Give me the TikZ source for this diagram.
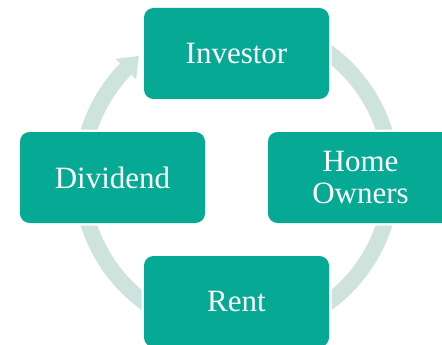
\documentclass[tikz,border=0pt]{standalone}
\usepackage{fontspec}
\setmainfont{Liberation Serif}
\usetikzlibrary{calc}
\definecolor{teal1}{HTML}{05A994}
\definecolor{ringcol}{HTML}{CDE3DC}
\begin{document}
\begin{tikzpicture}[x=1pt,y=-1pt,
  box/.style={rectangle, rounded corners=9.5pt, fill=teal1, text=white,
    minimum width=185pt, minimum height=91pt, inner sep=0pt, align=center,
    font=\fontsize{31}{32}\selectfont,
    preaction={draw=white, line width=5pt}},
  ring/.style={draw=ringcol, line width=16pt}]
\useasboundingbox (0,0) rectangle (442,345);
\clip (0,0) rectangle (442,345);
\coordinate (c) at (236.5,177.5);
% ring
\draw[ring] ($(c)+(90:155pt)$) arc[start angle=90, end angle=-224.4, radius=155pt];
\fill[ringcol] ($(c)+(135.6:140.5pt)$) -- ($(c)+(128.8:156pt)$) -- ($(c)+(135.6:169.5pt)$) -- cycle;
% boxes
\node[box] (inv) at (236.5,53.5) {Investor};
\node[box] (div) at (112.5,177.5) {Dividend};
\node[box] (home) at (360.5,177.5) {Home\\Owners};
\node[box] (rent) at (236.5,301.5) {Rent};
\end{tikzpicture}
\end{document}
